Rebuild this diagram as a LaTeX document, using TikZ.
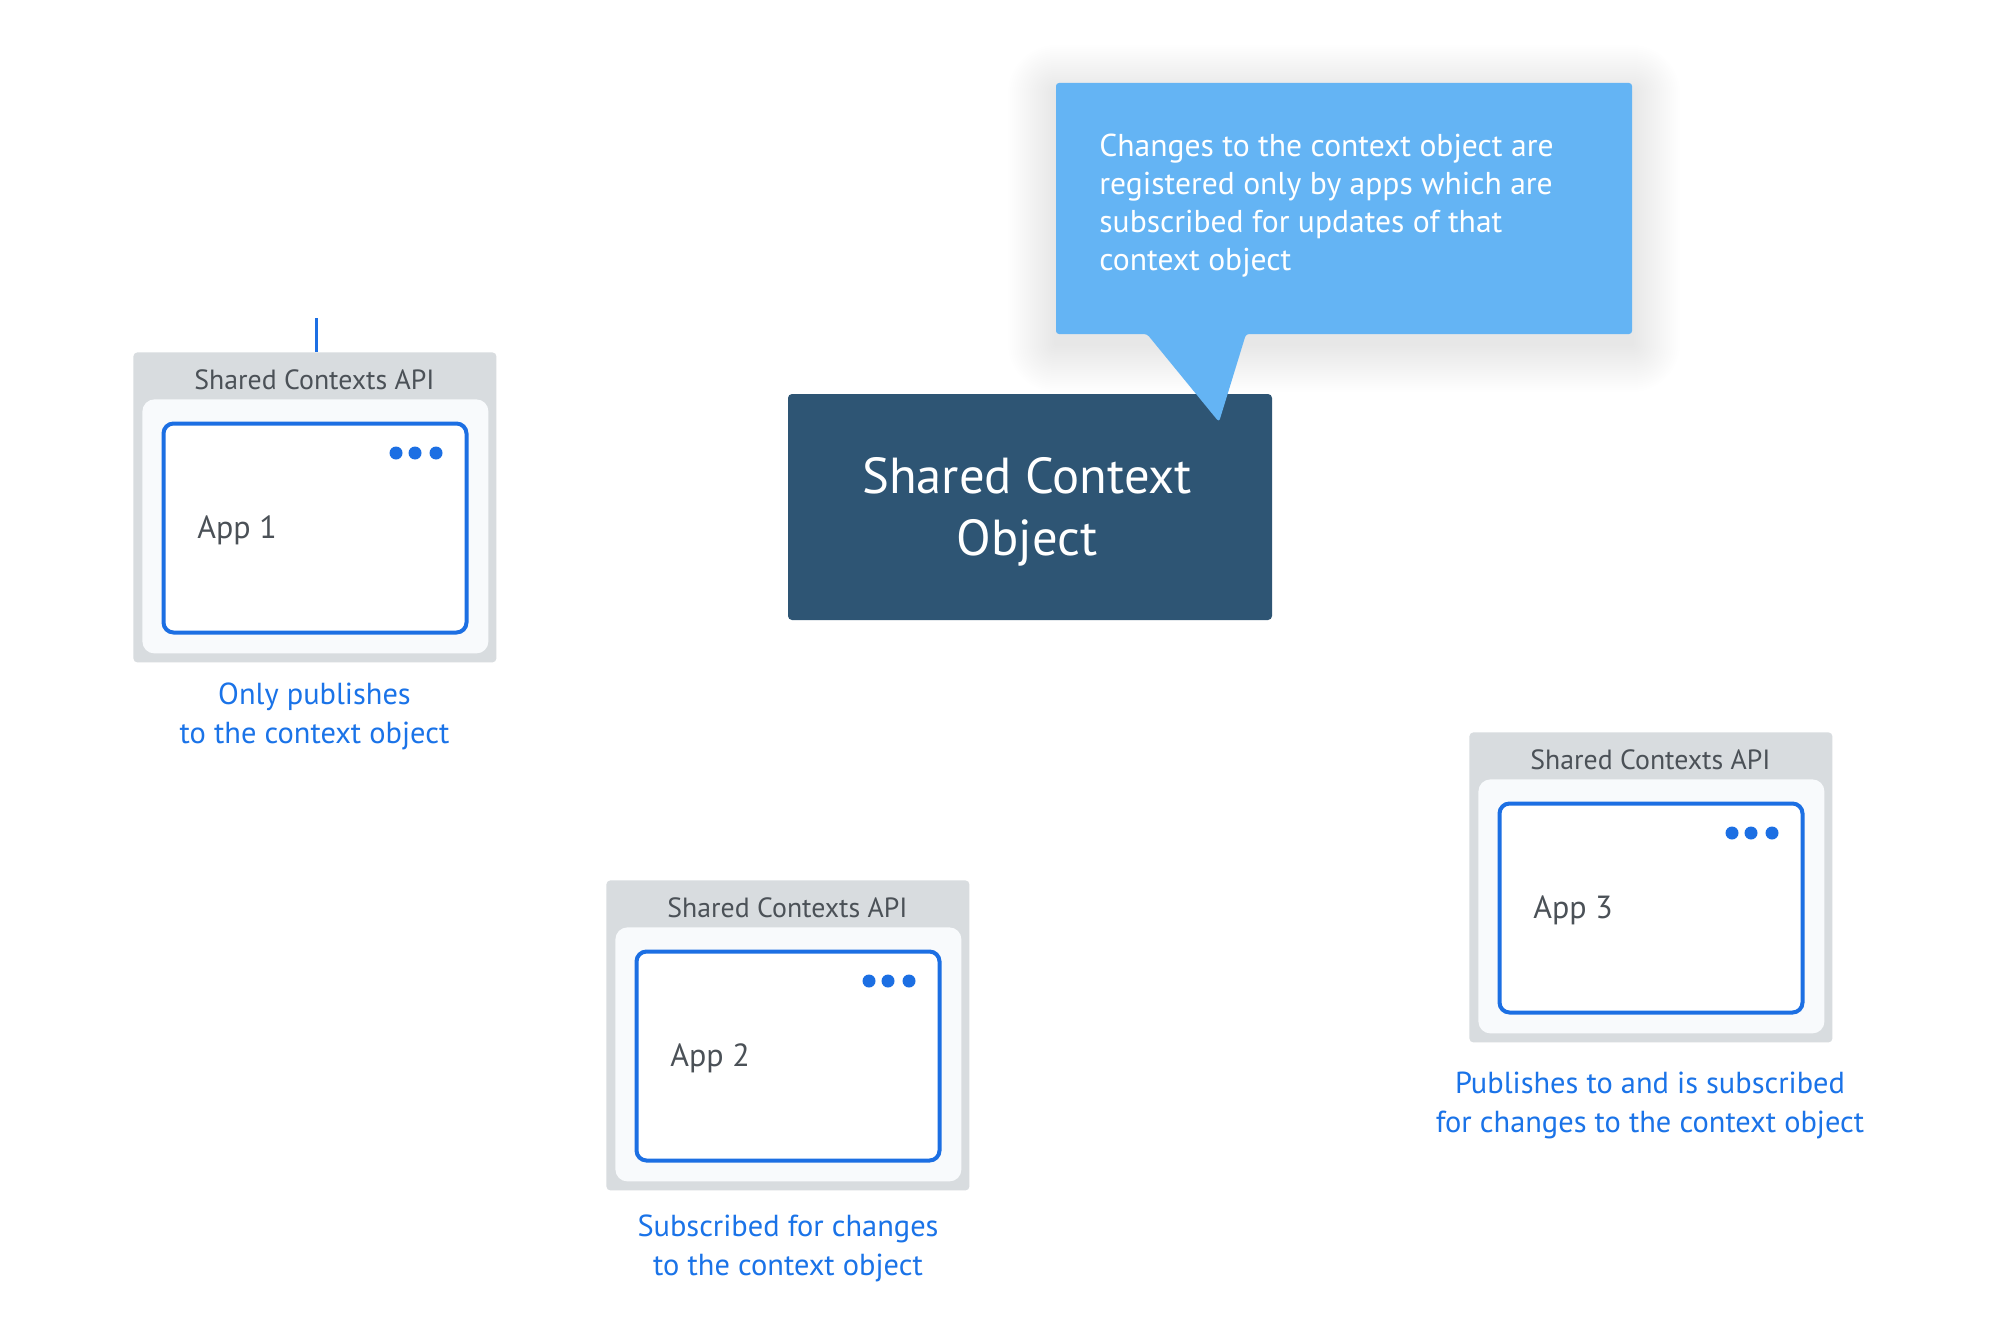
\documentclass[tikz,border=0pt]{standalone}
\usepackage{fontspec}
\setmainfont{PT Sans}
\definecolor{apigray}{HTML}{D8DCDF}
\definecolor{innerbg}{HTML}{F8FAFC}
\definecolor{appblue}{HTML}{1C6FE3}
\definecolor{labelblue}{HTML}{1A73E8}
\definecolor{textgray}{HTML}{4B5157}
\definecolor{darkbox}{HTML}{2E5574}
\definecolor{calloutblue}{HTML}{64B4F4}
\tikzset{
  apiouter/.style={fill=apigray, rounded corners=2pt, minimum width=181.5pt, minimum height=155pt, anchor=north west, inner sep=0pt},
  apiinner/.style={fill=innerbg, rounded corners=6pt, minimum width=173pt, minimum height=127pt, anchor=north west, inner sep=0pt},
  appwin/.style={draw=appblue, line width=2pt, fill=white, rounded corners=5pt, minimum width=151.5pt, minimum height=104.5pt, anchor=north west, inner sep=0pt},
  apititle/.style={text=textgray, font=\fontsize{13.9pt}{16pt}\selectfont, inner sep=0pt},
  apptext/.style={text=textgray, font=\fontsize{16pt}{18pt}\selectfont, inner sep=0pt, anchor=west},
  sublabel/.style={text=labelblue, align=center, font=\fontsize{15.2pt}{19.5pt}\selectfont, inner sep=0pt},
  ctxbox/.style={fill=darkbox, rounded corners=2pt, minimum width=242pt, minimum height=113pt, inner sep=0pt},
  ctxtext/.style={text=white, align=center, font=\fontsize{25.3pt}{31pt}\selectfont, inner sep=0pt},
  notetext/.style={text=white, align=left, font=\fontsize{15.8pt}{19pt}\selectfont, inner sep=0pt, anchor=west},
  calloutshape/.style={fill=calloutblue, rounded corners=1.5pt},
  shadowlayer/.style={fill=black, opacity=0.0055},
  dotstyle/.style={fill=appblue},
  linkline/.style={draw=appblue, line width=1.5pt}
}
\newcommand\AppBlock[4]{%
  \begin{scope}[shift={(#2,#3)}]
    \node[apiouter] (#1-api) at (0,0) {};
    \node[apititle] (#1-title) at (181.5,28) {Shared Contexts API};
    \node[apiinner] (#1-inner) at (9,47) {};
    \node[appwin] (#1-win) at (28.5,69.5) {};
    \foreach \dx in {263,282,303} \fill[dotstyle] (\dx,101) circle (3.25pt);
    \node[apptext] (#1-name) at (64,178) {#4};
  \end{scope}}
\begin{document}
\begin{tikzpicture}[x=0.5pt, y=-0.5pt]
  \fill[white] (0,0) rectangle (2000,1332);
  \useasboundingbox (0,0) rectangle (2000,1332);

  % App blocks
  \AppBlock{a1}{133}{352}{App 1}
  \AppBlock{a2}{606}{880}{App 2}
  \AppBlock{a3}{1469}{732}{App 3}

  \node[sublabel] (lab1) at (314.5,716) {Only publishes\\to the context object};
  \node[sublabel] (lab2) at (788,1248) {Subscribed for changes\\to the context object};
  \node[sublabel] (lab3) at (1650,1105.5) {Publishes to and is subscribed\\for changes to the context object};

  % short connector above App 1
  \coordinate (top1) at (316,318);
  \draw[linkline] (top1) -- (top1 |- a1-api.north);

  % central object
  \node[ctxbox] (ctx) at (1030,507) {};
  \node[ctxtext] (ctxlabel) at (1027,512) {Shared Context\\Object};

  % soft shadow of the callout
  \foreach \i in {1,...,24} {
    \fill[shadowlayer, rounded corners=\i pt] (1056-2*\i,83-2*\i+10) rectangle (1632+2*\i,334+2*\i+10);
  }
  % callout
  \path[calloutshape] (1056,83) -- (1632,83) -- (1632,334) -- (1246,334) -- (1219,422) -- (1147,334) -- (1056,334) -- cycle;
  \node[notetext] (note) at (1099,206) {Changes to the context object are\\registered only by apps which are\\subscribed for updates of that\\context object};
\end{tikzpicture}
\end{document}
